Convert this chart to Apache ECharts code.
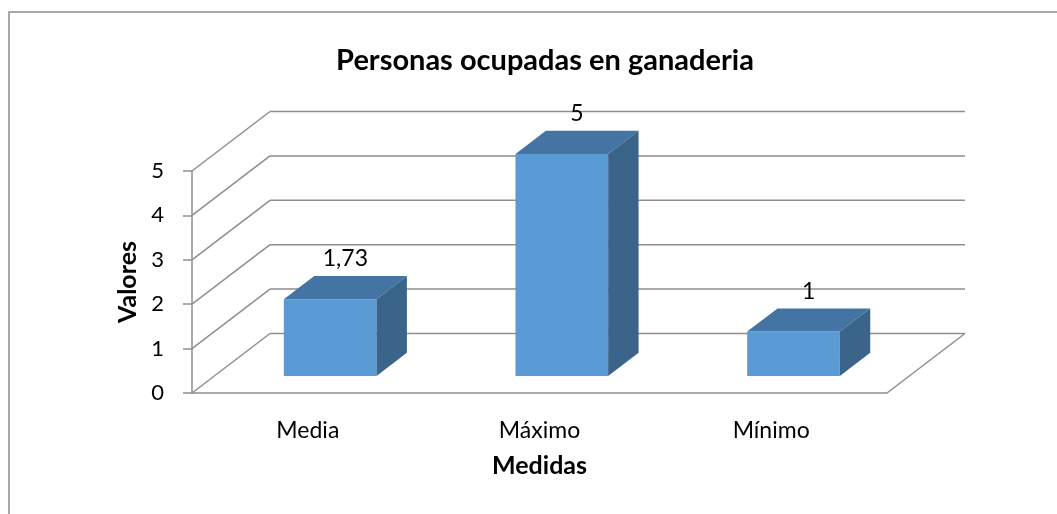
<!DOCTYPE html>
<html>
<head>
<meta charset="utf-8">
<script src="https://cdn.jsdelivr.net/npm/echarts@6/dist/echarts.min.js"></script>
<style>
  html, body { margin: 0; padding: 0; background: #fff; }
  #chart { width: 1057px; height: 514px; }
</style>
</head>
<body>
<div id="chart"></div>
<script>
// data
const categories = ['Media', 'Máximo', 'Mínimo']
const values = [1.73, 5, 1]
const labels = ['1,73', '5', '1']
const yTicks = [0, 1, 2, 3, 4, 5]

// 3d look: depth of the box and of the bars
const DX = 78
const DY = -59.5
const FRONT = 0.286
const DEPTH = 0.39
const GRID_COLOR = '#8e8e8e'
const FONT = 'Lato, "Open Sans", sans-serif'

const chart = echarts.init(document.getElementById('chart'))

function renderWalls(params, api) {
  const cs = params.coordSys
  const v = api.value(0)
  const y = api.coord([0, v])[1]
  const style = { stroke: GRID_COLOR, lineWidth: 1.5 }
  const children = [
    { type: 'line', shape: { x1: cs.x, y1: y, x2: cs.x + DX, y2: y + DY }, style },
    { type: 'line', shape: { x1: cs.x + DX, y1: y + DY, x2: cs.x + cs.width + DX, y2: y + DY }, style }
  ]
  if (v === 0) {
    children.push({ type: 'line', shape: { x1: cs.x + cs.width, y1: y, x2: cs.x + cs.width + DX, y2: y + DY }, style })
  }
  return { type: 'group', children }
}

function renderBar(params, api) {
  const i = api.value(0)
  const v = api.value(1)
  const base = api.coord([i, 0])
  const top = api.coord([i, v])
  const bw = api.size([1, 0])[0] * 0.4
  const fx = DX * FRONT, fy = DY * FRONT
  const dx = DX * DEPTH, dy = DY * DEPTH
  const x0 = base[0] - bw / 2 + fx
  const x1 = base[0] + bw / 2 + fx
  const yb = base[1] + fy
  const yt = top[1] + fy
  return {
    type: 'group',
    children: [
      { type: 'rect', shape: { x: x0, y: yt, width: x1 - x0, height: yb - yt }, style: { fill: '#5b9bd5' } },
      { type: 'polygon', shape: { points: [[x0, yt], [x1, yt], [x1 + dx, yt + dy], [x0 + dx, yt + dy]] }, style: { fill: '#4474a3' } },
      { type: 'polygon', shape: { points: [[x1, yt], [x1 + dx, yt + dy], [x1 + dx, yb + dy], [x1, yb]] }, style: { fill: '#3a6489' } },
      {
        type: 'text',
        style: {
          x: (x0 + x1) / 2 + dx / 2, y: yt + dy - 17,
          text: labels[params.dataIndex],
          fill: '#000', font: '23px ' + FONT,
          align: 'center', verticalAlign: 'middle'
        }
      }
    ]
  }
}

const option = {
  backgroundColor: '#fff',
  animation: false,
  title: {
    text: 'Personas ocupadas en ganaderia',
    left: 540,
    textAlign: 'center',
    top: 41,
    textStyle: { fontFamily: FONT, fontSize: 29, fontWeight: 'bold', color: '#000' }
  },
  graphic: [
    { type: 'rect', z: -10, shape: { x: 9, y: 12, width: 1100, height: 600 }, style: { fill: 'none', stroke: '#8c8c8c', lineWidth: 1.5 } }
  ],
  grid: { left: 192, right: 170, top: 171, bottom: 121 },
  xAxis: {
    type: 'category',
    data: categories,
    name: 'Medidas',
    nameLocation: 'middle',
    nameGap: 60,
    nameTextStyle: { fontFamily: FONT, fontSize: 25, fontWeight: 'bold', color: '#000' },
    axisLine: { lineStyle: { color: GRID_COLOR, width: 1.5 } },
    axisTick: { show: false },
    axisLabel: { margin: 26, fontFamily: FONT, fontSize: 23, color: '#000' },
    splitLine: { show: false }
  },
  yAxis: {
    type: 'value',
    min: 0,
    max: 5,
    interval: 1,
    name: 'Valores',
    nameLocation: 'middle',
    nameRotate: 90,
    nameGap: 51,
    nameTextStyle: { fontFamily: FONT, fontSize: 25, fontWeight: 'bold', color: '#000' },
    axisLine: { show: true, lineStyle: { color: GRID_COLOR, width: 1.5 } },
    axisTick: { show: true, length: 9, lineStyle: { color: GRID_COLOR, width: 1.5 } },
    axisLabel: {
      margin: 28, fontFamily: FONT, fontSize: 22, color: '#000',
      padding: [8, 0, 0, 0],
      formatter: v => (yTicks.includes(v) ? String(v) : '')
    },
    splitLine: { show: false }
  },
  series: [
    {
      type: 'custom',
      clip: false,
      silent: true,
      z: 1,
      renderItem: renderWalls,
      data: yTicks.map(v => [v])
    },
    {
      type: 'custom',
      clip: false,
      z: 2,
      renderItem: renderBar,
      data: values.map((v, i) => [i, v])
    }
  ]
}

chart.setOption(option)
</script>
</body>
</html>
